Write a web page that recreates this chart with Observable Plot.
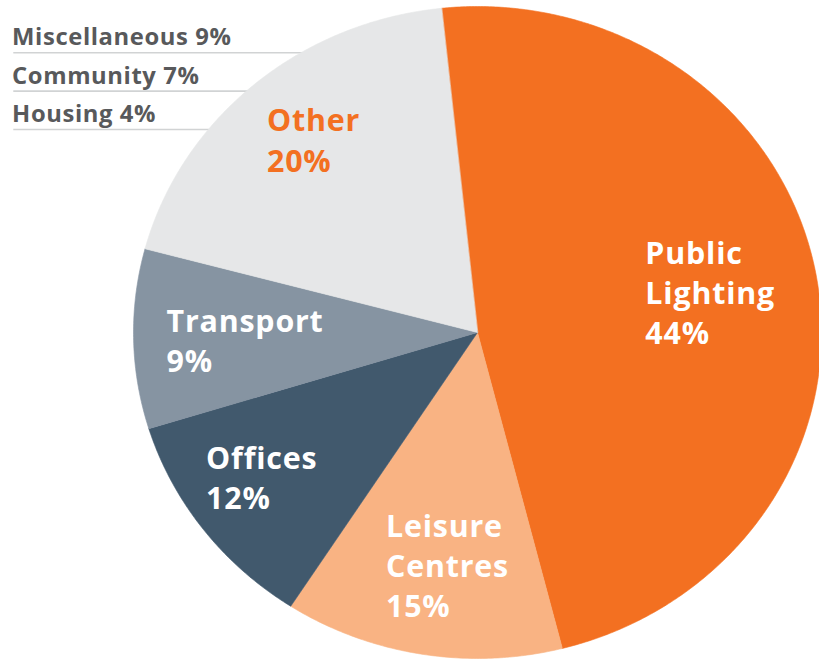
<!DOCTYPE html>
<html><head><meta charset="utf-8">
<script src="https://cdn.jsdelivr.net/npm/d3@7"></script>
<script src="https://cdn.jsdelivr.net/npm/@observablehq/plot@0.6"></script>
<style>html,body{margin:0;padding:0;background:#fff} svg{display:block}</style>
</head><body><div id="chart"></div>
<script>
// ---- data ----
const categories = ["Public Lighting", "Leisure Centres", "Offices", "Transport", "Other"];
const labelNames = ["Public\nLighting", "Leisure\nCentres", "Offices", "Transport", "Other"];
const percentLabels = ["44%", "15%", "12%", "9%", "20%"];
// slice sizes as drawn in the picture (percent of the circle)
const shares = [47.7, 13.1, 11.1, 8.9, 19.2];
const otherNames = ["Miscellaneous", "Community", "Housing"];
const otherPercents = ["9%", "7%", "4%"];

// ---- layout / style (not data) ----
const palette = ["#F37021", "#F9B383", "#41596D", "#8694A2", "#E6E7E8"];
const startAngle = -6; // degrees clockwise from 12 o'clock
const labelAnchors = [ // [x, y] in pie units (last-line baseline)
  [0.488, -0.0347], [-0.266, -0.873], [-0.789, -0.541], [-0.904, -0.122], [-0.612, 0.492]
];
const W = 819, H = 659;
const xRange = [133, 821], yRange = [658, 6];
const yPix = d3.scaleLinear().domain([-1, 1]).range(yRange);

// slice outlines
const total = d3.sum(shares);
let acc = startAngle;
const outline = [];
categories.forEach((c, i) => {
  const a0 = acc, a1 = acc + shares[i] / total * 360; acc = a1;
  outline.push({cat: c, x: 0, y: 0});
  const n = Math.ceil((a1 - a0) / 0.5);
  for (let k = 0; k <= n; k++) {
    const a = (a0 + (a1 - a0) * k / n) * Math.PI / 180;
    outline.push({cat: c, x: Math.sin(a), y: Math.cos(a)});
  }
});

const labels = categories.map((c, i) => ({
  cat: c, text: labelNames[i] + "\n" + percentLabels[i], x: labelAnchors[i][0], y: labelAnchors[i][1]
}));

const breakdown = otherNames.map((n, i) => ({
  text: n + " " + otherPercents[i],
  y: yPix.invert(52.3 + 38.35 * i)
}));

const font = "'Open Sans', sans-serif";

const chart = Plot.plot({
  width: W, height: H,
  margin: 0,
  x: {domain: [-1, 1], range: xRange, axis: null},
  y: {domain: [-1, 1], range: yRange, axis: null},
  color: {domain: categories, range: palette},
  style: {background: "#fff", overflow: "visible"},
  marks: [
    Plot.ruleY(breakdown, {y: "y", x1: -1.348, x2: -0.2, stroke: "#D1D3D4", strokeWidth: 1.6}),
    Plot.line(outline, {x: "x", y: "y", z: "cat", fill: "cat", stroke: "cat", strokeWidth: 0.6, curve: "linear-closed"}),
    Plot.text(breakdown, {x: -1.353, y: "y", dy: -7.5, text: "text", textAnchor: "start", lineAnchor: "bottom",
      fill: "#58595B", fontSize: 23.8, fontWeight: 700, fontFamily: font}),
    Plot.text(labels.filter(d => d.cat !== "Other"), {x: "x", y: "y", text: "text", textAnchor: "start", lineAnchor: "bottom",
      lineHeight: 40 / 30.4, fill: "#fff", fontSize: 30.4, fontWeight: 700, fontFamily: font}),
    Plot.text(labels.filter(d => d.cat === "Other"), {x: "x", y: "y", text: "text", textAnchor: "start", lineAnchor: "bottom",
      lineHeight: 41.5 / 30.4, fill: "#F37021", fontSize: 30.4, fontWeight: 700, fontFamily: font})
  ]
});
const textGroups = chart.querySelectorAll("g[aria-label='text']");
textGroups.forEach((g, i) => g.setAttribute("letter-spacing", i === 0 ? "0.6" : "0.8"));
document.getElementById("chart").appendChild(chart);
</script>
</body></html>
